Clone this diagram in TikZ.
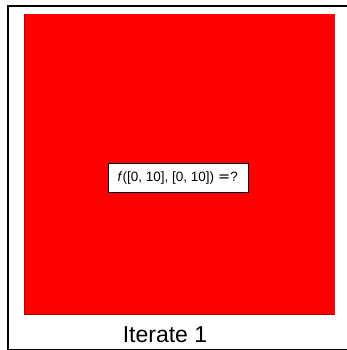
\documentclass[tikz,border=0pt]{standalone}
\usepackage{fontspec}
\setmainfont{Liberation Sans}
\newfontfamily\symfont{DejaVu Sans}
\usetikzlibrary{positioning}
\definecolor{pred}{HTML}{FF0000}
\definecolor{predd}{HTML}{B00000}
\tikzset{
  % red cell of the search domain
  cell/.style  = {rectangle, fill=pred, draw=none, inner sep=0pt},
  query/.style = {rectangle, draw=black, fill=white, line width=0.7pt, inner sep=0pt,
                  minimum width=140pt, minimum height=29pt},
  qtext/.style = {font=\fontsize{13.5}{15}\selectfont, inner sep=0pt, anchor=west},
  title/.style = {font=\fontsize{23}{26}\selectfont, inner sep=0pt, anchor=base},
}
\begin{document}
\begin{tikzpicture}[x=1pt,y=-1pt]
\useasboundingbox (0,0) rectangle (347,350);
% frame
\draw[line width=2pt] (7.7,6) rectangle (360,350);
% domain
\node[cell, minimum width=311pt, minimum height=300pt] (dom) at (179.5,164) {};
\draw[predd, line width=0.6pt] (dom.north west) -- (dom.south west) -- (dom.south east);
% query
\node[query] (q) at (178.3,177.8) {};
\node[qtext] (qt) at ([xshift=-0.5pt]q.west -| 118,0) {\textit{f}([0, 10], [0, 10])\hspace{4pt}{\symfont\fontsize{14.5}{15}\selectfont =}?};
% iterate label
\node[title] (it) at (165,342.3) {Iterate 1};
\end{tikzpicture}
\end{document}
